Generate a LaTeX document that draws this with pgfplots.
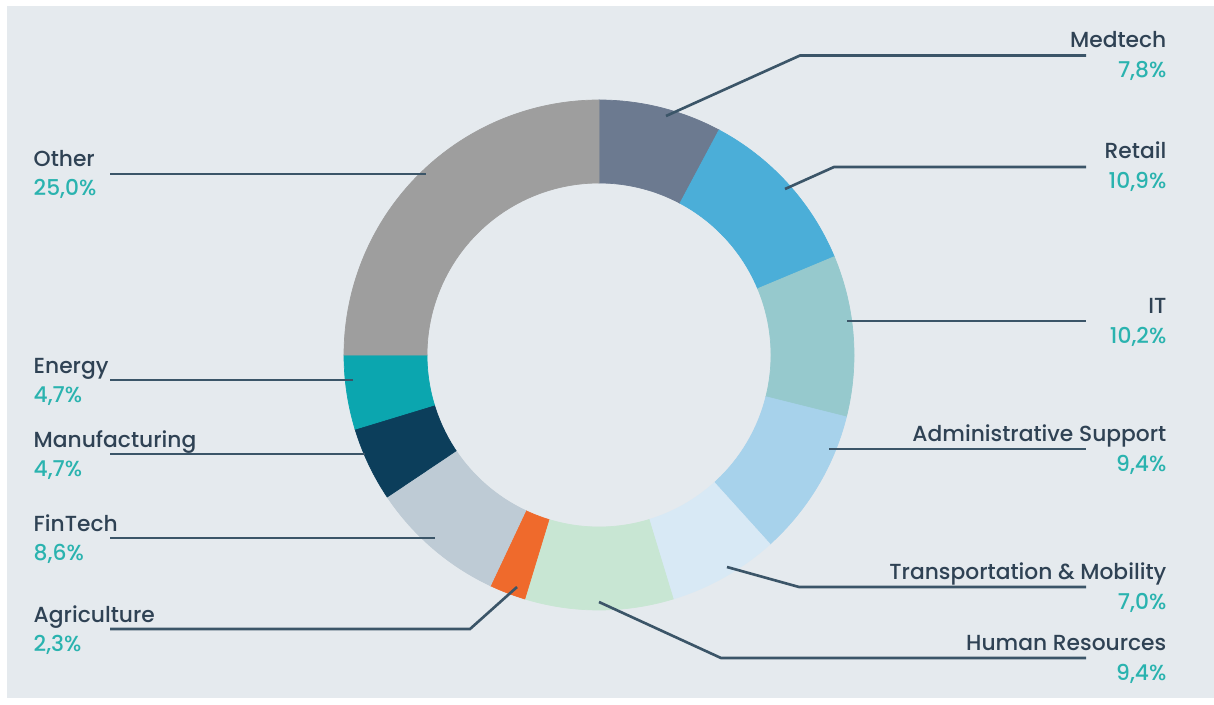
\documentclass[border=0pt]{standalone}
\usepackage{pgfplots}
\usepackage{pgfplotstable}
\pgfplotsset{compat=1.18}
\usepackage{fontspec}
\setmainfont{Poppins}
\newfontfamily\labfont{Poppins Medium}

\definecolor{panel}{HTML}{E5EAEE}
\definecolor{namec}{HTML}{2F4254}
\definecolor{pctc}{HTML}{2AB3AF}
\definecolor{linec}{HTML}{3B5568}
\definecolor{cMed}{HTML}{6C7A90}
\definecolor{cRet}{HTML}{4BAED8}
\definecolor{cIT}{HTML}{96C9CD}
\definecolor{cAdm}{HTML}{A7D2EB}
\definecolor{cTra}{HTML}{D8E9F5}
\definecolor{cHR}{HTML}{C8E6D3}
\definecolor{cAgr}{HTML}{EF6A2C}
\definecolor{cFin}{HTML}{BECBD5}
\definecolor{cMan}{HTML}{0C3E5B}
\definecolor{cEne}{HTML}{0BA6AF}
\definecolor{cOth}{HTML}{9E9E9E}

% shares in percent, clockwise from 12 o'clock
\pgfplotstableread[col sep=comma]{
name,value,color
Medtech,7.8,cMed
Retail,10.9,cRet
IT,10.2,cIT
Administrative Support,9.4,cAdm
Transportation and Mobility,7.0,cTra
Human Resources,9.4,cHR
Agriculture,2.3,cAgr
FinTech,8.6,cFin
Manufacturing,4.7,cMan
Energy,4.7,cEne
Other,25.0,cOth
}\slices

\tikzset{
  lead/.style={draw=linec, line width=0.75pt},
  nm/.style={inner sep=0pt, text=namec, font=\labfont\fontsize{6.2}{7}\selectfont},
  pc/.style={inner sep=0pt, text=pctc, font=\labfont\fontsize{6.2}{7}\selectfont},
}

\begin{document}
\begin{tikzpicture}
\begin{axis}[
  width=12.14cm, height=7.04cm, scale only axis,
  xmin=0, xmax=1214, ymin=0, ymax=704,
  axis lines=none, clip=false,
]
\addplot[fill=white, draw=none] coordinates {(0,0) (1214,0) (1214,704) (0,704)};
\addplot[fill=panel, draw=none] coordinates {(7,6) (1214,6) (1214,698) (7,698)};

% donut slices
\pgfplotsextra{
  \xdef\cum{0}
  \pgfplotstableforeachcolumnelement{value}\of\slices\as\v{
    \pgfplotstablegetelem{\pgfplotstablerow}{color}\of\slices
    \let\col\pgfplotsretval
    \pgfmathsetmacro{\aA}{90-3.6*\cum}
    \pgfmathsetmacro{\aB}{90-3.6*(\cum+\v)}
    \filldraw[\col, line width=0.2pt] (axis cs:599,349) ++(\aA:2.55cm)
      arc[start angle=\aA, end angle=\aB, radius=2.55cm]
      -- ++(\aB:-0.83cm)
      arc[start angle=\aB, end angle=\aA, radius=1.72cm] -- cycle;
    \pgfmathparse{\cum+\v}
    \xdef\cum{\pgfmathresult}
  }
}

% leader lines
\addplot[lead] coordinates {(666,588) (800,648.5) (1086,648.5)};
\addplot[lead] coordinates {(785,515) (834,537) (1086,537)};
\addplot[lead] coordinates {(847,383) (1086,383)};
\addplot[lead] coordinates {(829,255) (1086,255)};
\addplot[lead] coordinates {(727,137) (799,117) (1086,117)};
\addplot[lead] coordinates {(599,102) (721,46) (1086,46)};
\addplot[lead] coordinates {(110,530) (426,530)};
\addplot[lead] coordinates {(110,324) (353,324)};
\addplot[lead] coordinates {(110,250) (365,250)};
\addplot[lead] coordinates {(110,166) (435,166)};
\addplot[lead] coordinates {(110,75) (470,75) (517,117)};

% labels right
\node[nm, anchor=base east] at (axis cs:1167,656.5) {Medtech};
\node[pc, anchor=base east] at (axis cs:1167,626.5) {7,8\%};
\node[nm, anchor=base east] at (axis cs:1167,545) {Retail};
\node[pc, anchor=base east] at (axis cs:1167,515) {10,9\%};
\node[nm, anchor=base east] at (axis cs:1167,391) {IT};
\node[pc, anchor=base east] at (axis cs:1167,361) {10,2\%};
\node[nm, anchor=base east] at (axis cs:1167,263) {Administrative Support};
\node[pc, anchor=base east] at (axis cs:1167,233) {9,4\%};
\node[nm, anchor=base east] at (axis cs:1167,125) {Transportation \& Mobility};
\node[pc, anchor=base east] at (axis cs:1167,95) {7,0\%};
\node[nm, anchor=base east] at (axis cs:1167,54) {Human Resources};
\node[pc, anchor=base east] at (axis cs:1167,24) {9,4\%};
% labels left
\node[nm, anchor=base west] at (axis cs:33,537) {Other};
\node[pc, anchor=base west] at (axis cs:33,508) {25,0\%};
\node[nm, anchor=base west] at (axis cs:33,331) {Energy};
\node[pc, anchor=base west] at (axis cs:33,302) {4,7\%};
\node[nm, anchor=base west] at (axis cs:33,257) {Manufacturing};
\node[pc, anchor=base west] at (axis cs:33,228) {4,7\%};
\node[nm, anchor=base west] at (axis cs:33,173) {FinTech};
\node[pc, anchor=base west] at (axis cs:33,144) {8,6\%};
\node[nm, anchor=base west] at (axis cs:33,82) {Agriculture};
\node[pc, anchor=base west] at (axis cs:33,53) {2,3\%};
\end{axis}
\end{tikzpicture}
\end{document}
